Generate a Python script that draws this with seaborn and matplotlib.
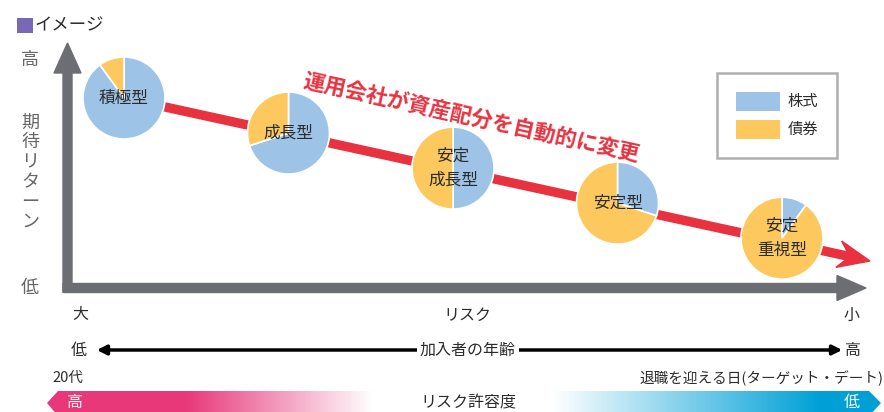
import numpy as np
import matplotlib
matplotlib.use("Agg")
import matplotlib.pyplot as plt
import seaborn as sns
from matplotlib.patches import Patch, Polygon, Rectangle

# ---- data -------------------------------------------------------------
funds = ['積極型', '成長型', '安定\n成長型', '安定型', '安定\n重視型']
stock_pct = [90, 70, 50, 30, 10]
bond_pct = [10, 30, 50, 70, 90]
asset_names = ['株式', '債券']
risk_labels = ['大', 'リスク', '小']
age_labels = ['低', '加入者の年齢', '高']
age_notes = ['20代', '退職を迎える日(ターゲット・デート)']
tolerance_labels = ['高', 'リスク許容度', '低']
return_labels = ['高', '期待リターン', '低']
title = 'イメージ'
arrow_note = '運用会社が資産配分を自動的に変更'

sns.set_theme(style='white')
plt.rcParams['font.family'] = ['Noto Sans CJK JP', 'DejaVu Sans']

asset_colors = sns.color_palette(['#9dc3e6', '#fdc85e'])
red = '#e8323f'
gray = '#6d6e73'
text_dark = '#2b2b2b'
text_gray = '#666666'

fig = plt.figure(figsize=(8.84, 4.12), dpi=100)
ax = fig.add_axes([0, 0, 1, 1])
ax.set_xlim(0, 884)
ax.set_ylim(412, 0)
ax.axis('off')

# title
ax.add_patch(Rectangle((17, 18), 16, 15, facecolor='#7a67b5', edgecolor='none'))
ax.text(35, 25, title, color=text_dark, fontsize=12.5, va='center', ha='left')

# axes arrows
ax.arrow(67.5, 292, 0, 43 - 292, width=9, head_width=27, head_length=30,
         length_includes_head=True, color=gray, zorder=2)
ax.arrow(63, 288, 866 - 63, 0, width=9, head_width=25, head_length=29,
         length_includes_head=True, color=gray, zorder=2)

# y labels
ax.text(30, 60, return_labels[0], color=text_gray, fontsize=13, ha='center', va='center')
ax.text(30, 172, '\n'.join(return_labels[1]), color=text_gray, fontsize=13,
        ha='center', va='center', linespacing=1.12)
ax.text(30, 288, return_labels[2], color=text_gray, fontsize=13, ha='center', va='center')

# pies placed along the glide path
n = len(funds)
xs = 124 + np.arange(n) * 164.5
ys = 98 + (xs - 124) * 0.213
radius = 41

# red glide path arrow (behind pies)
ax.arrow(xs[0], ys[0], 870 - xs[0], 261 - ys[0], width=8, head_width=27,
         head_length=32, overhang=0.25, length_includes_head=True,
         color=red, zorder=3)

for i in range(n):
    ax.pie([stock_pct[i], bond_pct[i]], colors=asset_colors, center=(xs[i], ys[i]),
           radius=radius, startangle=-90, counterclock=True, frame=True,
           wedgeprops=dict(edgecolor='white', linewidth=1.2, zorder=4))
    ax.text(xs[i], ys[i], funds[i], color=text_dark, fontsize=12, ha='center',
            va='center', linespacing=1.5, zorder=6)

ax.text(471, 118, arrow_note, color=red, fontsize=15.5, fontweight='bold',
        rotation=-12.5, rotation_mode='anchor', ha='center', va='center', zorder=6)

# legend
handles = [Patch(facecolor=c, edgecolor='none', label=l) for c, l in zip(asset_colors, asset_names)]
leg = ax.legend(handles=handles, loc='upper left', bbox_to_anchor=(717 / 884, 1 - 73 / 412),
                frameon=True, fancybox=False, edgecolor='#9a9a9a', fontsize=11,
                handlelength=2.9, handleheight=1.5, borderpad=1.25, labelspacing=0.6,
                handletextpad=0.45, borderaxespad=0)
leg.get_frame().set_linewidth(1.8)
for t in leg.get_texts():
    t.set_color(text_dark)

# risk labels
for x, lab in zip([80, 467, 852], risk_labels):
    ax.text(x, 315, lab, color=text_dark, fontsize=11.5, ha='center', va='center')

# age arrow
ax.annotate('', xy=(94, 350), xytext=(845, 350),
            arrowprops=dict(arrowstyle='<|-|>', lw=2.5, color='black', mutation_scale=14))
ax.text(79, 350, age_labels[0], color=text_dark, fontsize=11.5, ha='center', va='center')
ax.text(468, 350, age_labels[1], color=text_dark, fontsize=11.5, ha='center', va='center',
        bbox=dict(facecolor='white', edgecolor='none', pad=2))
ax.text(853, 350, age_labels[2], color=text_dark, fontsize=11.5, ha='center', va='center')

ax.text(52, 378, age_notes[0], color=text_dark, fontsize=10.5, ha='left', va='center')
ax.text(883, 378, age_notes[1], color=text_dark, fontsize=10.5, ha='right', va='center')

# risk tolerance gradient band
gx = np.linspace(40, 884, 900)
pink = np.array([232, 56, 122]) / 255
blue = np.array([0, 160, 215]) / 255
a_p = np.clip((373 - gx) / (373 - 186), 0, 1)[:, None]
a_b = np.clip((gx - 553) / (820 - 553), 0, 1)[:, None]
row = 1 - a_p * (1 - pink) - a_b * (1 - blue)
img = np.repeat(row[None, :, :], 2, axis=0)
im = ax.imshow(img, extent=(40, 884, 416, 391), aspect='auto', zorder=1)
band = Polygon([(47, 403), (58, 391), (869, 391), (881, 403), (869, 416), (58, 416)],
               closed=True, transform=ax.transData, facecolor='none', edgecolor='none')
ax.add_patch(band)
im.set_clip_path(band)

ax.text(75, 403, tolerance_labels[0], color='white', fontsize=11.5, ha='center', va='center', zorder=5)
ax.text(468, 403, tolerance_labels[1], color=text_dark, fontsize=11.5, ha='center', va='center', zorder=5)
ax.text(852, 403, tolerance_labels[2], color='white', fontsize=11.5, ha='center', va='center', zorder=5)

ax.set_xlim(0, 884)
ax.set_ylim(412, 0)
ax.set_aspect('auto')
ax.axis('off')

fig.savefig('out.png', dpi=100)
